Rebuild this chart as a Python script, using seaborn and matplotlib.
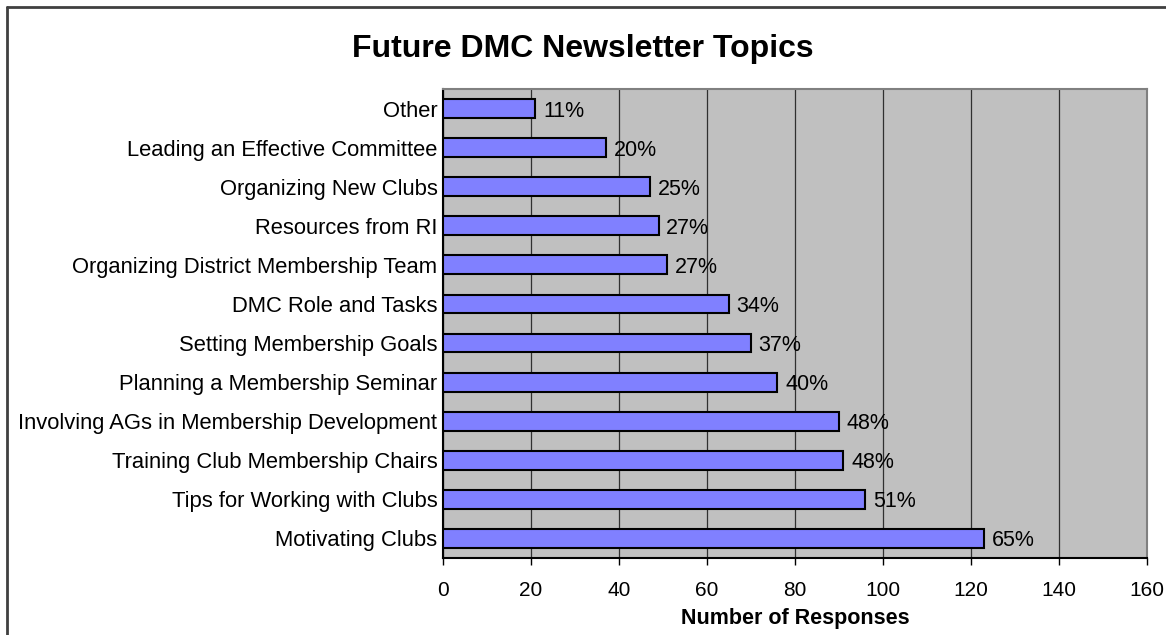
import matplotlib
matplotlib.use("Agg")
import matplotlib.pyplot as plt
from matplotlib.lines import Line2D
import seaborn as sns
import pandas as pd

topics = [
    "Other",
    "Leading an Effective Committee",
    "Organizing New Clubs",
    "Resources from RI",
    "Organizing District Membership Team",
    "DMC Role and Tasks",
    "Setting Membership Goals",
    "Planning a Membership Seminar",
    "Involving AGs in Membership Development",
    "Training Club Membership Chairs",
    "Tips for Working with Clubs",
    "Motivating Clubs",
]
responses = [21, 37, 47, 49, 51, 65, 70, 76, 90, 91, 96, 123]
percent_labels = ["11%", "20%", "25%", "27%", "27%", "34%", "37%", "40%",
                  "48%", "48%", "51%", "65%"]
x_ticks = [0, 20, 40, 60, 80, 100, 120, 140, 160]

df = pd.DataFrame({"topic": topics, "responses": responses})

sns.set_theme(style="white")
plt.rcParams["font.family"] = ["Liberation Sans", "DejaVu Sans"]
plt.rcParams["text.color"] = "black"
plt.rcParams["axes.labelcolor"] = "black"
plt.rcParams["xtick.color"] = "black"
plt.rcParams["ytick.color"] = "black"

W, H = 1166, 635
fig = plt.figure(figsize=(W / 100, H / 100), dpi=100)
fig.patch.set_facecolor("white")

left, right, top, bottom = 443, 1147, 89, 558
ax = fig.add_axes([left / W, 1 - bottom / H, (right - left) / W, (bottom - top) / H])
ax.set_facecolor("#C0C0C0")

sns.barplot(data=df, x="responses", y="topic", orient="h", color="#8080FF",
            saturation=1, width=0.48, edgecolor="black", linewidth=1.5,
            ax=ax, zorder=3)

ax.set_xlim(0, 160)
ax.set_ylim(len(topics) - 0.5, -0.5)
ax.set_xticks(x_ticks)
ax.set_xticklabels([str(t) for t in x_ticks], fontsize=15)
ax.xaxis.grid(True, color="#303030", linewidth=0.9, zorder=1)
ax.yaxis.grid(False)

# Category labels, with tick marks between categories
ax.set_yticks(range(len(topics)))
ax.set_yticklabels(topics, fontsize=15.8)
ax.tick_params(axis="y", which="major", length=0, pad=4)
ax.set_yticks([i - 0.5 for i in range(len(topics) + 1)], minor=True)
ax.tick_params(axis="y", which="minor", length=4, width=1, color="black", direction="out")
ax.tick_params(axis="x", which="major", length=5, width=1, color="black",
               direction="out", pad=11.5, bottom=True)

ax.set_xlabel("Number of Responses", fontsize=15.5, fontweight="bold", labelpad=6)
ax.set_ylabel("")

for side in ["top", "right"]:
    ax.spines[side].set_color("#808080")
    ax.spines[side].set_linewidth(1.5)
for side in ["left", "bottom"]:
    ax.spines[side].set_color("black")
    ax.spines[side].set_linewidth(1.5)

for i, (v, lab) in enumerate(zip(responses, percent_labels)):
    ax.annotate(lab, xy=(v, i), xytext=(5.5, 0), textcoords="offset points",
                ha="left", va="center_baseline", fontsize=15.5, color="black", zorder=4)

fig.text(0.5, 1 - 49 / H, "Future DMC Newsletter Topics", ha="center", va="center",
         fontsize=23, fontweight="bold")

# Chart frame (left and top edges)
fig.add_artist(Line2D([7 / W, 7 / W], [0, 1 - 7 / H], transform=fig.transFigure,
                      color="#404040", linewidth=2))
fig.add_artist(Line2D([7 / W, 1], [1 - 7 / H, 1 - 7 / H], transform=fig.transFigure,
                      color="#404040", linewidth=2))

fig.savefig("out.png", dpi=100)
